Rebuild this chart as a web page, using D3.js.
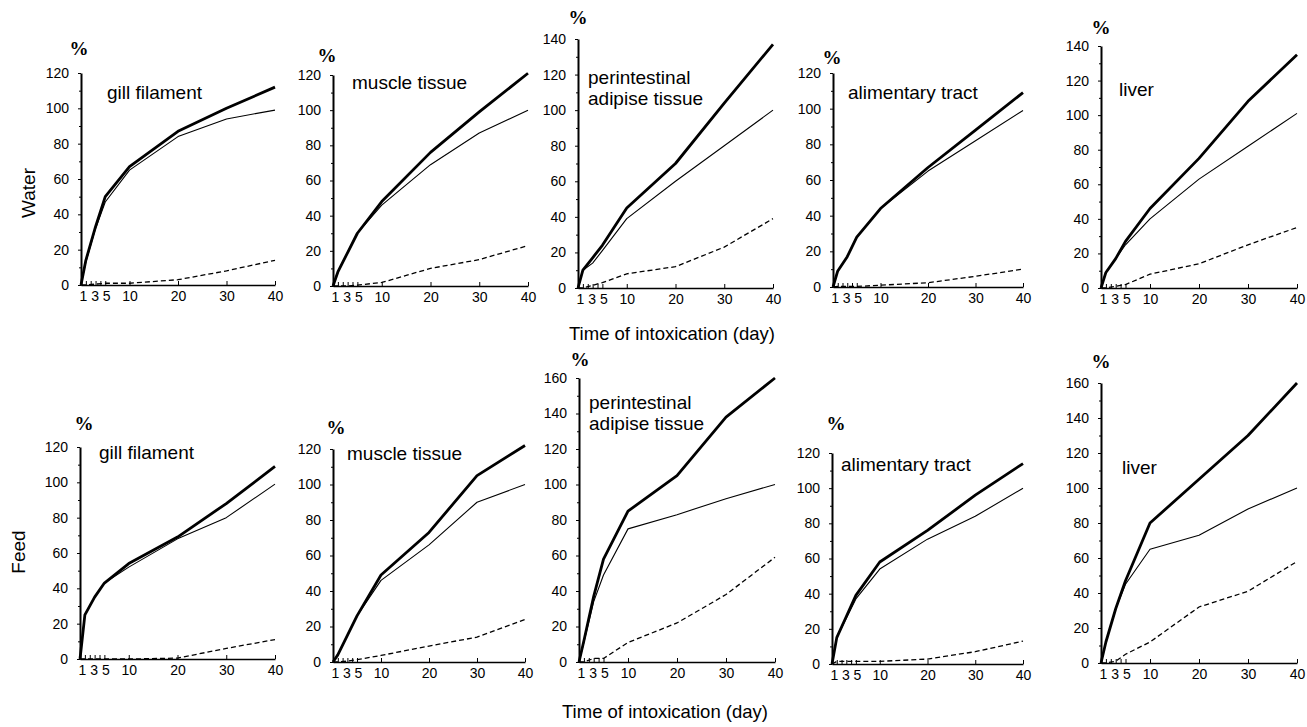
<!DOCTYPE html>
<html><head><meta charset="utf-8">
<script src="https://cdn.jsdelivr.net/npm/d3@7/dist/d3.min.js"></script>
<style>
body{margin:0;background:#fff;}
svg{display:block;}
.tick-label{font-family:'Liberation Sans Narrow','Arial Narrow','Liberation Sans',Arial,sans-serif;font-size:14px;fill:#000;}
.title{font-family:'Liberation Sans',Arial,sans-serif;font-size:19px;fill:#000;}
.pct{font-family:'Liberation Serif','Times New Roman',serif;font-weight:bold;font-size:19px;fill:#000;}
</style>
</head><body>
<svg id="chart" width="1307" height="727"></svg>
<script>
// ---------- DATA ----------
const days = [0, 1, 3, 5, 10, 20, 30, 40];
const xTickLabels = [1, 3, 5, 10, 20, 30, 40];
const xTickMarks = [1, 2, 3, 4, 5, 10, 20, 30, 40];
const organs = ["gill filament", "muscle tissue", "perintestinal\nadipise tissue", "alimentary tract", "liver"];
const routes = ["Water", "Feed"];
const xAxisTitle = "Time of intoxication (day)";
const yUnit = "%";
const waterYMax = [120, 120, 140, 120, 140];
const feedYMax = [120, 120, 160, 120, 160];

// Water route
const waterBold = [
  [0, 14, 33, 50, 67, 87, 100, 112],
  [0, 8, 19, 30, 48, 76, 99, 121],
  [0, 10, 17, 24, 45, 70, 104, 137],
  [0, 9, 17, 28, 44, 67, 88, 109],
  [0, 9, 17, 27, 46, 75, 108, 135]
];
const waterThin = [
  [0, 13, 32, 47, 65, 84, 94, 99],
  [0, 8, 19, 30, 46, 69, 87, 100],
  [0, 10, 14, 21, 39, 60, 80, 100],
  [0, 9, 17, 28, 44, 65, 82, 99],
  [0, 9, 17, 25, 40, 63, 82, 101]
];
const waterDashed = [
  [0, 0, 0.5, 1, 1, 3, 8, 14],
  [0, 0, 0, 0.5, 2, 10, 15, 23],
  [0, 0, 1.5, 3, 8, 12, 23, 39],
  [0, 0.3, 0.3, 0.3, 1, 2.4, 6, 10],
  [0, 0, 1, 2, 8, 14, 25, 35]
];
// Feed route
const feedBold = [
  [0, 25, 35, 43, 54, 69, 88, 109],
  [0, 4, 15, 26, 49, 73, 105, 122],
  [0, 12, 37, 58, 85, 105, 138, 160],
  [0, 15, 27, 39, 58, 76, 96, 114],
  [0, 12, 31, 47, 80, 105, 130, 160]
];
const feedThin = [
  [0, 25, 35, 43, 52, 68, 80, 99],
  [0, 4, 15, 26, 46, 66, 90, 100],
  [0, 11, 34, 49, 75, 83, 92, 100],
  [0, 15, 26, 37, 54, 71, 84, 100],
  [0, 12, 31, 45, 65, 73, 88, 100]
];
const feedDashed = [
  [0, 0, 0, 0, 0, 0.5, 6, 11],
  [0, 0, 0.5, 1.3, 3.7, 9, 14, 24],
  [0, 0, 2, 2, 11, 22, 38, 59],
  [0, 1.5, 1.5, 1.5, 1.5, 2.8, 7, 13],
  [0, 0, 1, 5, 12, 32, 41, 58]
];

// ---------- LAYOUT (pixel geometry only) ----------
const layout = [
  [ // water row
    {x0: 81, x1: 275, y0: 285, yTop: 73, pct: [79, 48], title: [107, 92]},
    {x0: 333, x1: 528, y0: 286, yTop: 75, pct: [327, 55], title: [352, 82]},
    {x0: 578, x1: 773, y0: 288, yTop: 39, pct: [578, 17], title: [588, 77]},
    {x0: 833, x1: 1023, y0: 287, yTop: 73, pct: [832, 57], title: [848, 92]},
    {x0: 1101, x1: 1297, y0: 288, yTop: 46, pct: [1101, 27], title: [1119, 89]}
  ],
  [ // feed row
    {x0: 80, x1: 275, y0: 659, yTop: 447, pct: [84, 423], title: [99, 452]},
    {x0: 333, x1: 525, y0: 662, yTop: 449, pct: [336, 427], title: [347, 453]},
    {x0: 579, x1: 775, y0: 662, yTop: 378, pct: [580, 359], title: [589, 402]},
    {x0: 832, x1: 1023, y0: 664, yTop: 453, pct: [836, 423], title: [841, 464]},
    {x0: 1101, x1: 1297, y0: 663, yTop: 383, pct: [1101, 361], title: [1122, 467]}
  ]
];
const rowLabelPos = [[28, 193], [18, 552]];
const xTitlePos = [[672, 333], [665, 711]];
const labelNudge = {1: -3, 3: -1, 5: 1};

const svg = d3.select("#chart");

const rows = [
  {yMax: waterYMax, bold: waterBold, thin: waterThin, dashed: waterDashed},
  {yMax: feedYMax, bold: feedBold, thin: feedThin, dashed: feedDashed}
];

rows.forEach((row, ri) => {
  organs.forEach((organ, ci) => {
    const L = layout[ri][ci];
    const x = d3.scaleLinear().domain([0, 40]).range([L.x0, L.x1]);
    const y = d3.scaleLinear().domain([0, row.yMax[ci]]).range([L.y0, L.yTop]);
    const g = svg.append("g");

    // y axis
    const yAx = g.append("g").attr("transform", `translate(${L.x0},0)`)
      .call(d3.axisLeft(y).tickValues(d3.range(0, row.yMax[ci] + 1, 20)).tickSize(3).tickPadding(9).tickSizeOuter(0));
    yAx.select(".domain").attr("stroke", "#000").attr("stroke-width", 2);
    yAx.selectAll(".tick line").attr("stroke", "#000").attr("stroke-width", 1);
    yAx.selectAll(".tick text").attr("class", "tick-label").attr("font-family", null).attr("font-size", null);
    // minor y ticks
    g.append("g").attr("transform", `translate(${L.x0},0)`)
      .call(d3.axisLeft(y).tickValues(d3.range(10, row.yMax[ci], 20)).tickSize(2).tickFormat(""))
      .call(s => s.select(".domain").remove())
      .selectAll("line").attr("stroke", "#000");

    // x axis
    const xAx = g.append("g").attr("transform", `translate(0,${L.y0})`)
      .call(d3.axisBottom(x).tickValues(xTickMarks).tickSize(-4).tickSizeOuter(0)
        .tickFormat(d => xTickLabels.includes(d) ? d : ""));
    xAx.select(".domain").attr("stroke", "#000").attr("stroke-width", 1.6);
    xAx.selectAll(".tick line").attr("stroke", "#000").attr("stroke-width", 1);
    xAx.selectAll(".tick text").attr("class", "tick-label").attr("font-family", null).attr("font-size", null)
      .attr("y", 6).attr("dx", d => labelNudge[d] || 0);

    // lines
    const line = d3.line().x((d, i) => x(days[i])).y(d => y(d)).curve(d3.curveLinear);
    g.append("path").datum(row.dashed[ci]).attr("d", line)
      .attr("fill", "none").attr("stroke", "#000").attr("stroke-width", 1.3).attr("stroke-dasharray", "5,3");
    g.append("path").datum(row.thin[ci]).attr("d", line)
      .attr("fill", "none").attr("stroke", "#000").attr("stroke-width", 1.1).attr("stroke-linejoin", "round");
    g.append("path").datum(row.bold[ci]).attr("d", line)
      .attr("fill", "none").attr("stroke", "#000").attr("stroke-width", 2.8).attr("stroke-linejoin", "round");

    // % label
    g.append("text").attr("class", "pct").attr("x", L.pct[0]).attr("y", L.pct[1])
      .attr("text-anchor", "middle").attr("dominant-baseline", "central").text(yUnit);

    // title
    const lines = organ.split("\n");
    const t = g.append("text").attr("class", "title").attr("x", L.title[0]).attr("y", L.title[1])
      .attr("dominant-baseline", "central");
    lines.forEach((ln, k) => t.append("tspan").attr("x", L.title[0]).attr("dy", k === 0 ? 0 : 21).text(ln));
  });
});

// row labels
routes.forEach((r, i) => {
  svg.append("text").attr("class", "title")
    .attr("transform", `translate(${rowLabelPos[i][0]},${rowLabelPos[i][1]}) rotate(-90)`)
    .attr("text-anchor", "middle").attr("dominant-baseline", "central").text(r);
});
// x axis titles
xTitlePos.forEach(p => {
  svg.append("text").attr("class", "title").style("font-size", "18.5px")
    .attr("x", p[0]).attr("y", p[1]).attr("text-anchor", "middle").attr("dominant-baseline", "central")
    .text(xAxisTitle);
});
</script>
</body></html>
